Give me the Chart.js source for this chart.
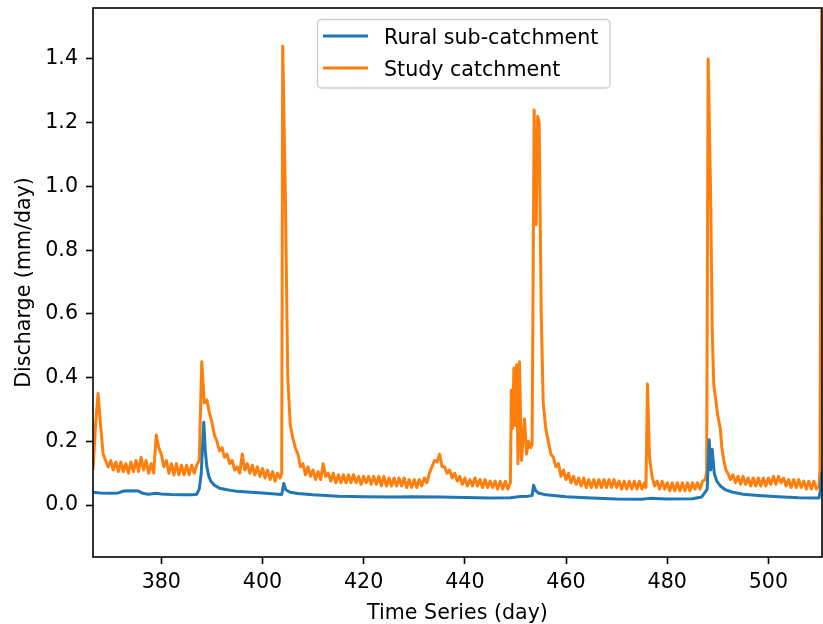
<!DOCTYPE html>
<html>
<head>
<meta charset="utf-8">
<script src="https://cdn.jsdelivr.net/npm/chart.js@4.4.1/dist/chart.umd.min.js"></script>
<style>
html,body{margin:0;padding:0;background:#fff;overflow:hidden}
#wrap{width:823px;height:624px;position:relative}
canvas{display:block}
</style>
</head>
<body>
<div id="wrap"><canvas id="c" width="823" height="624"></canvas></div>
<script>
// ---- Data ----
const seriesNames = ['Rural sub-catchment', 'Study catchment'];
const xTicks = [380, 400, 420, 440, 460, 480, 500];
const yTicks = [0.0, 0.2, 0.4, 0.6, 0.8, 1.0, 1.2, 1.4];

const ruralDays = [
  366.5,368,370,371.5,372.5,374,375.5,376.5,377.5,379,
  380,382,384,386,387,387.5,387.9,388.2,388.4,388.7,
  389,389.4,389.8,390.5,391.5,393,395,397,400,403.8,
  404.2,404.6,405.5,407,410,415,420,425,430,435,
  440,445,449,451,452.5,453.3,453.6,454,454.5,456,
  460,465,470,475,476.5,480,485,486.8,487.4,487.9,
  488.3,488.6,488.9,489.3,489.8,490.5,491.5,493,495,498,
  502,506,510,510.3,510.6
];
const ruralQ = [
  0.040,0.038,0.037,0.038,0.044,0.045,0.044,0.036,0.034,0.037,
  0.035,0.033,0.032,0.032,0.034,0.050,0.100,0.200,0.260,0.170,
  0.120,0.090,0.075,0.062,0.053,0.048,0.043,0.041,0.038,0.033,
  0.068,0.048,0.040,0.036,0.032,0.028,0.026,0.025,0.026,0.025,
  0.024,0.022,0.023,0.027,0.028,0.030,0.062,0.045,0.038,0.032,
  0.026,0.022,0.019,0.018,0.021,0.019,0.020,0.025,0.038,0.050,
  0.205,0.110,0.175,0.100,0.075,0.060,0.048,0.040,0.034,0.030,
  0.026,0.023,0.022,0.050,0.105
];

const studyDays = [
  366.5,367,367.5,368,368.5,369,369.5,370,370.5,371,
  371.5,372,372.5,373,373.5,374,374.5,375,375.5,376,
  376.5,377,377.5,378,378.5,379,379.5,380,380.5,381,
  381.5,382,382.5,383,383.5,384,384.5,385,385.5,386,
  386.5,387,387.5,388,388.5,389,389.5,390,390.5,391,
  391.5,392,392.5,393,393.5,394,394.5,395,395.5,396,
  396.5,397,397.5,398,398.5,399,399.5,400,400.5,401,
  401.5,402,402.5,403,403.5,403.8,404,404.5,405,405.5,406,
  406.5,407,407.5,408,408.5,409,409.5,410,410.5,411,
  411.5,412,412.5,413,413.5,414,414.5,415,415.5,416,
  416.5,417,417.5,418,418.5,419,419.5,420,420.5,421,
  421.5,422,422.5,423,423.5,424,424.5,425,425.5,426,
  426.5,427,427.5,428,428.5,429,429.5,430,430.5,431,
  431.5,432,432.5,433,433.5,434,434.5,435,435.5,436,
  436.5,437,437.5,438,438.5,439,439.5,440,440.5,441,
  441.5,442,442.5,443,443.5,444,444.5,445,445.5,446,
  446.5,447,447.5,448,448.5,449,449.2,449.45,449.7,450,450.25,
  450.5,450.8,451.2,451.8,452.2,452.6,453,453.3,453.7,454.1,
  454.4,454.7,455.1,455.5,456,456.5,457,457.5,458,458.5,
  459,459.5,460,460.5,461,461.5,462,462.5,463,463.5,
  464,464.5,465,465.5,466,466.5,467,467.5,468,468.5,
  469,469.5,470,470.5,471,471.5,472,472.5,473,473.5,
  474,474.5,475,475.5,475.8,476.1,476.5,477,477.5,478,
  478.5,479,479.5,480,480.5,481,481.5,482,482.5,483,
  483.5,484,484.5,485,485.5,486,486.5,487,487.5,487.8,
  488.1,488.6,488.9,489.2,489.6,490,490.5,490.8,491.2,491.6,
  492,492.5,493,493.5,494,494.5,495,495.5,496,496.5,
  497,497.5,498,498.5,499,499.5,500,500.5,501,501.5,
  502,502.5,503,503.5,504,504.5,505,505.5,506,506.5,
  507,507.5,508,508.5,509,509.5,510,510.2,510.6
];
const studyQ = [
  0.11,0.25,0.35,0.25,0.16,0.14,0.12,0.14,0.11,0.135,
  0.105,0.135,0.105,0.13,0.10,0.135,0.105,0.14,0.105,0.15,
  0.11,0.14,0.10,0.13,0.10,0.22,0.18,0.16,0.12,0.14,
  0.10,0.13,0.095,0.13,0.095,0.125,0.095,0.125,0.095,0.125,
  0.10,0.125,0.14,0.45,0.32,0.33,0.29,0.26,0.22,0.20,
  0.17,0.18,0.15,0.16,0.13,0.14,0.11,0.12,0.10,0.16,
  0.11,0.13,0.10,0.125,0.095,0.12,0.09,0.115,0.085,0.11,
  0.08,0.105,0.075,0.10,0.085,0.10,1.44,1.00,0.40,0.25,0.21,
  0.18,0.16,0.12,0.13,0.095,0.12,0.09,0.11,0.08,0.105,
  0.08,0.13,0.09,0.10,0.075,0.10,0.07,0.095,0.07,0.095,
  0.07,0.095,0.07,0.095,0.07,0.09,0.065,0.09,0.07,0.09,
  0.065,0.09,0.065,0.09,0.06,0.09,0.06,0.085,0.06,0.085,
  0.06,0.085,0.06,0.085,0.055,0.08,0.055,0.08,0.055,0.08,
  0.06,0.085,0.07,0.10,0.12,0.14,0.135,0.16,0.12,0.12,
  0.10,0.11,0.085,0.10,0.075,0.09,0.065,0.085,0.06,0.08,
  0.06,0.085,0.06,0.08,0.055,0.08,0.055,0.075,0.055,0.075,
  0.05,0.075,0.05,0.075,0.05,0.07,0.36,0.24,0.43,0.25,0.44,
  0.13,0.45,0.14,0.27,0.16,0.20,0.18,0.19,1.24,0.88,
  1.22,1.20,0.60,0.32,0.24,0.20,0.16,0.15,0.12,0.13,
  0.09,0.11,0.08,0.10,0.07,0.09,0.065,0.085,0.06,0.085,
  0.055,0.08,0.055,0.08,0.055,0.08,0.055,0.08,0.055,0.08,
  0.055,0.08,0.055,0.075,0.05,0.075,0.05,0.075,0.05,0.075,
  0.05,0.075,0.05,0.07,0.055,0.38,0.15,0.09,0.06,0.075,
  0.05,0.075,0.05,0.07,0.045,0.07,0.045,0.07,0.045,0.07,
  0.045,0.07,0.045,0.07,0.05,0.07,0.05,0.075,0.08,0.10,
  1.40,0.96,0.55,0.38,0.33,0.28,0.24,0.18,0.14,0.11,
  0.10,0.08,0.095,0.07,0.09,0.065,0.09,0.065,0.085,0.06,
  0.085,0.06,0.085,0.06,0.085,0.06,0.085,0.065,0.09,0.065,
  0.09,0.07,0.085,0.06,0.08,0.055,0.08,0.055,0.08,0.055,
  0.075,0.05,0.075,0.05,0.075,0.05,0.06,0.11,1.9
];

const xLimits = [366.5, 510.6];
const yLimits = [-0.163, 1.56];
const xTitle = 'Time Series (day)';
const yTitle = 'Discharge (mm/day)';
const colors = ['#1f77b4', '#ff7f0e'];

// ---- Rendering ----
const FONT = "'DejaVu Sans', sans-serif";
const FS = 20.6;
const toPts = (xs, ys) => xs.map((d, i) => ({ x: d, y: ys[i] }));

const framePlugin = {
  id: 'frame',
  afterDatasetsDraw(chart) {
    const { ctx, chartArea: a } = chart;
    ctx.save();
    ctx.strokeStyle = '#000';
    ctx.lineWidth = 1.6;
    ctx.strokeRect(a.left, a.top, a.right - a.left, a.bottom - a.top);
    ctx.restore();
  }
};

const legendPlugin = {
  id: 'mplLegend',
  afterDraw(chart) {
    const ctx = chart.ctx;
    const bx = 317.5, by = 19.5, bw = 292.5, bh = 68.5, r = 4;
    ctx.save();
    ctx.beginPath();
    ctx.moveTo(bx + r, by);
    ctx.lineTo(bx + bw - r, by);
    ctx.arcTo(bx + bw, by, bx + bw, by + r, r);
    ctx.lineTo(bx + bw, by + bh - r);
    ctx.arcTo(bx + bw, by + bh, bx + bw - r, by + bh, r);
    ctx.lineTo(bx + r, by + bh);
    ctx.arcTo(bx, by + bh, bx, by + bh - r, r);
    ctx.lineTo(bx, by + r);
    ctx.arcTo(bx, by, bx + r, by, r);
    ctx.closePath();
    ctx.fillStyle = 'rgba(255,255,255,0.8)';
    ctx.fill();
    ctx.strokeStyle = '#cccccc';
    ctx.lineWidth = 1.3;
    ctx.stroke();
    const rows = [36, 68];
    chart.data.datasets.forEach((ds, i) => {
      const y = rows[i];
      ctx.beginPath();
      ctx.moveTo(323, y);
      ctx.lineTo(368, y);
      ctx.strokeStyle = ds.borderColor;
      ctx.lineWidth = 3;
      ctx.stroke();
      ctx.fillStyle = '#000';
      ctx.font = FS + 'px ' + FONT;
      ctx.textBaseline = 'alphabetic';
      ctx.textAlign = 'left';
      ctx.fillText(ds.label, 384, y + 7.5);
    });
    ctx.restore();
  }
};

const tickFont = { family: FONT, size: FS };

new Chart(document.getElementById('c'), {
  type: 'line',
  data: {
    datasets: [
      { label: seriesNames[0], data: toPts(ruralDays, ruralQ), borderColor: colors[0],
        borderWidth: 3, pointRadius: 0, tension: 0, fill: false, borderJoinStyle: 'round' },
      { label: seriesNames[1], data: toPts(studyDays, studyQ), borderColor: colors[1],
        borderWidth: 3, pointRadius: 0, tension: 0, fill: false, borderJoinStyle: 'round' }
    ]
  },
  options: {
    responsive: false,
    animation: false,
    devicePixelRatio: 1,
    layout: { padding: { top: 8, right: 1, left: 0, bottom: 0 } },
    plugins: { legend: { display: false }, tooltip: { enabled: false } },
    scales: {
      x: {
        type: 'linear',
        min: xLimits[0], max: xLimits[1],
        afterBuildTicks: s => { s.ticks = xTicks.map(v => ({ value: v })); },
        afterFit: s => { s.height = 67; s.paddingLeft = 0; s.paddingRight = 0; },
        grid: { drawOnChartArea: false, drawTicks: true, tickLength: 7, tickWidth: 1.6, tickColor: '#000' },
        border: { display: false },
        ticks: { color: '#000', font: tickFont, padding: 6, maxRotation: 0, autoSkip: false,
                 callback: v => String(v) },
        title: { display: true, text: xTitle, color: '#000',
                 font: { family: FONT, size: FS, lineHeight: 1 }, padding: { top: 0, bottom: 0 } }
      },
      y: {
        type: 'linear',
        min: yLimits[0], max: yLimits[1],
        afterBuildTicks: s => { s.ticks = yTicks.map(v => ({ value: v })); },
        afterFit: s => { s.width = 93; s.paddingTop = 0; s.paddingBottom = 0; },
        grid: { drawOnChartArea: false, drawTicks: true, tickLength: 7, tickWidth: 1.6, tickColor: '#000' },
        border: { display: false },
        ticks: { color: '#000', font: tickFont, padding: 8, autoSkip: false,
                 callback: v => Number(v).toFixed(1) },
        title: { display: true, text: yTitle, color: '#000',
                 font: { family: FONT, size: FS, lineHeight: 1 }, padding: { top: 14, bottom: 0 } }
      }
    }
  },
  plugins: [framePlugin, legendPlugin]
});
</script>
</body>
</html>
